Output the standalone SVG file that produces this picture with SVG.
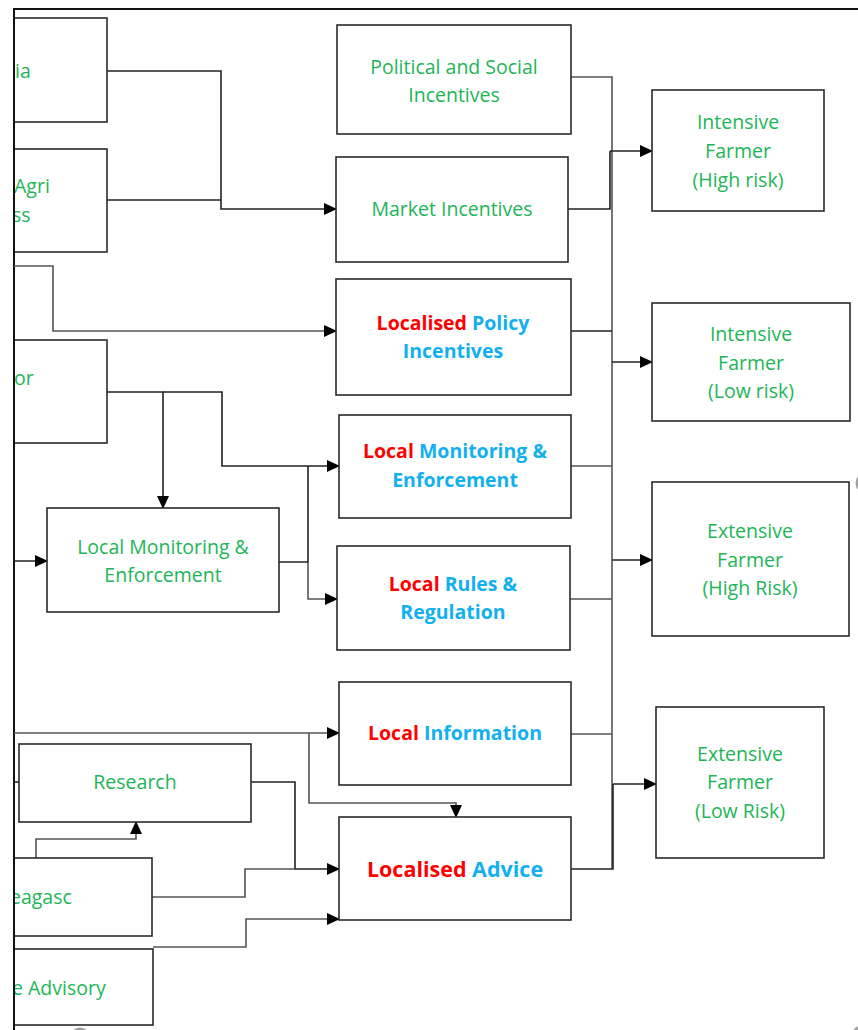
<svg xmlns="http://www.w3.org/2000/svg" width="858" height="1030" viewBox="0 0 858 1030">
  <style>
    .box { fill: #ffffff; stroke: #2a2a2a; stroke-width: 1.6; }
    .lbl { font-family: "Open Sans", "Noto Sans", sans-serif; font-size: 19.5px; fill: #22b557; text-anchor: middle; }
    .lft { text-anchor: start; }
    .b { font-weight: bold; }
    .red { fill: #ff0000; }
    .blue { fill: #12b0ef; }
    .wire { fill: none; stroke: #222; stroke-width: 1.6; }
    .wire-g { fill: none; stroke: #555; stroke-width: 1.6; }
    .frame { fill: none; stroke: #111; stroke-width: 2; }
    .handle { fill: none; stroke: #a0a0a0; stroke-width: 3; }
  </style>
  <defs>
    <marker id="arr" markerUnits="userSpaceOnUse" markerWidth="13" markerHeight="12" refX="12" refY="6" orient="auto">
      <path d="M0,0 L13,6 L0,12 z" fill="#000"/>
    </marker>
    <clipPath id="page">
      <rect x="15" y="0" width="843" height="1030"/>
    </clipPath>
  </defs>

  <rect x="0" y="0" width="858" height="1030" fill="#ffffff"/>

  <!-- page frame -->
  <path class="frame" d="M14,1030 V9 H858"/>

  <!-- connectors -->
  <g id="connectors">
    <!-- into Market Incentives -->
    <path class="wire" d="M107,71 H221 V209 H336" marker-end="url(#arr)"/>
    <path class="wire" d="M107,200 H221"/>
    <!-- into Localised Policy Incentives -->
    <path class="wire-g" d="M14,266 H53 V331 H336" marker-end="url(#arr)"/>
    <!-- from third source box -->
    <path class="wire" d="M107,392 H163 V508" marker-end="url(#arr)"/>
    <path class="wire" d="M163,392 H222 V466 H339" marker-end="url(#arr)"/>
    <!-- from Local Monitoring & Enforcement (left) -->
    <path class="wire" d="M279,562 H308 V466"/>
    <path class="wire-g" d="M308,562 V599 H337" marker-end="url(#arr)"/>
    <path class="wire" d="M14,561 H47" marker-end="url(#arr)"/>
    <!-- into Local Information and Localised Advice -->
    <path class="wire-g" d="M14,733 H339" marker-end="url(#arr)"/>
    <path class="wire-g" d="M309,733 V803 H456 V817" marker-end="url(#arr)"/>
    <path class="wire" d="M14,782 H19"/>
    <path class="wire" d="M251,782 H295 V869 H339" marker-end="url(#arr)"/>
    <path class="wire-g" d="M152,897 H245 V869 H295"/>
    <path class="wire-g" d="M36,858 V839 H136 V822" marker-end="url(#arr)"/>
    <path class="wire-g" d="M153,947 H246 V919 H339" marker-end="url(#arr)"/>
    <!-- right-hand bus -->
    <path class="wire-g" d="M571,77 H612 V869"/>
    <path class="wire" d="M568,209 H610 V151"/>
    <path class="wire" d="M610,151 H652" marker-end="url(#arr)"/>
    <path class="wire" d="M571,331 H612"/>
    <path class="wire" d="M612,362 H652" marker-end="url(#arr)"/>
    <path class="wire-g" d="M571,466 H612"/>
    <path class="wire-g" d="M570,599 H612"/>
    <path class="wire" d="M612,560 H652" marker-end="url(#arr)"/>
    <path class="wire-g" d="M571,734 H612"/>
    <path class="wire" d="M571,869 H613 V784"/>
    <path class="wire" d="M613,784 H656" marker-end="url(#arr)"/>
  </g>

  <!-- source boxes, cut by the page edge -->
  <g clip-path="url(#page)">
    <g id="src-media">
      <rect class="box" x="0" y="18" width="107" height="104"/>
      <text class="lbl lft" x="15" y="78">ia</text>
    </g>
    <g id="src-agri">
      <rect class="box" x="0" y="149" width="107" height="103"/>
      <text class="lbl lft" x="14" y="193">Agri</text>
      <text class="lbl lft" x="12" y="222">ss</text>
    </g>
    <g id="src-sector">
      <rect class="box" x="0" y="340" width="107" height="103"/>
      <text class="lbl lft" x="14" y="385">or</text>
    </g>
    <g id="src-teagasc">
      <rect class="box" x="0" y="858" width="152" height="78"/>
      <text class="lbl lft" x="10" y="904">eagasc</text>
    </g>
    <g id="src-advisory">
      <rect class="box" x="0" y="949" width="153" height="76"/>
      <text class="lbl lft" x="12" y="995">e Advisory</text>
    </g>
  </g>

  <g id="research">
    <rect class="box" x="19" y="744" width="232" height="78"/>
    <text class="lbl" x="135" y="789">Research</text>
  </g>

  <g id="local-monitoring-left">
    <rect class="box" x="47" y="508" width="232" height="104"/>
    <text class="lbl" x="163" y="554">Local Monitoring &amp;</text>
    <text class="lbl" x="163" y="582">Enforcement</text>
  </g>

  <!-- middle column -->
  <g id="political-social">
    <rect class="box" x="337" y="25" width="234" height="109"/>
    <text class="lbl" x="454" y="74">Political and Social</text>
    <text class="lbl" x="454" y="102">Incentives</text>
  </g>
  <g id="market">
    <rect class="box" x="336" y="157" width="232" height="105"/>
    <text class="lbl" x="452" y="216">Market Incentives</text>
  </g>
  <g id="policy">
    <rect class="box" x="336" y="279" width="235" height="116"/>
    <text class="lbl b" x="453" y="330"><tspan class="red">Localised</tspan> <tspan class="blue">Policy</tspan></text>
    <text class="lbl b blue" x="453" y="358">Incentives</text>
  </g>
  <g id="local-monitoring">
    <rect class="box" x="339" y="415" width="232" height="103"/>
    <text class="lbl b" x="455" y="458"><tspan class="red">Local</tspan> <tspan class="blue">Monitoring &amp;</tspan></text>
    <text class="lbl b blue" x="455" y="487">Enforcement</text>
  </g>
  <g id="rules">
    <rect class="box" x="337" y="546" width="233" height="104"/>
    <text class="lbl b" x="453" y="591"><tspan class="red">Local</tspan> <tspan class="blue">Rules &amp;</tspan></text>
    <text class="lbl b blue" x="453" y="619">Regulation</text>
  </g>
  <g id="information">
    <rect class="box" x="339" y="682" width="232" height="103"/>
    <text class="lbl b" x="455" y="740"><tspan class="red">Local</tspan> <tspan class="blue">Information</tspan></text>
  </g>
  <g id="advice">
    <rect class="box" x="339" y="817" width="232" height="103"/>
    <text class="lbl b" x="455" y="877" style="font-size:21.5px"><tspan class="red">Localised</tspan> <tspan class="blue">Advice</tspan></text>
  </g>

  <!-- farmer types -->
  <g id="intensive-high">
    <rect class="box" x="652" y="90" width="172" height="121"/>
    <text class="lbl" x="738" y="129">Intensive</text>
    <text class="lbl" x="738" y="158">Farmer</text>
    <text class="lbl" x="738" y="187">(High risk)</text>
  </g>
  <g id="intensive-low">
    <rect class="box" x="652" y="303" width="198" height="118"/>
    <text class="lbl" x="751" y="341">Intensive</text>
    <text class="lbl" x="751" y="370">Farmer</text>
    <text class="lbl" x="751" y="398">(Low risk)</text>
  </g>
  <g id="extensive-high">
    <rect class="box" x="652" y="482" width="197" height="154"/>
    <text class="lbl" x="750" y="538">Extensive</text>
    <text class="lbl" x="750" y="567">Farmer</text>
    <text class="lbl" x="750" y="595">(High Risk)</text>
  </g>
  <g id="extensive-low">
    <rect class="box" x="656" y="707" width="168" height="151"/>
    <text class="lbl" x="740" y="761">Extensive</text>
    <text class="lbl" x="740" y="789">Farmer</text>
    <text class="lbl" x="740" y="818">(Low Risk)</text>
  </g>

  <!-- resize handles at the edges -->
  <circle class="handle" cx="866" cy="483" r="9"/>
  <circle class="handle" cx="80" cy="1038" r="9"/>
  <circle class="handle" cx="862" cy="1036" r="9"/>
</svg>
